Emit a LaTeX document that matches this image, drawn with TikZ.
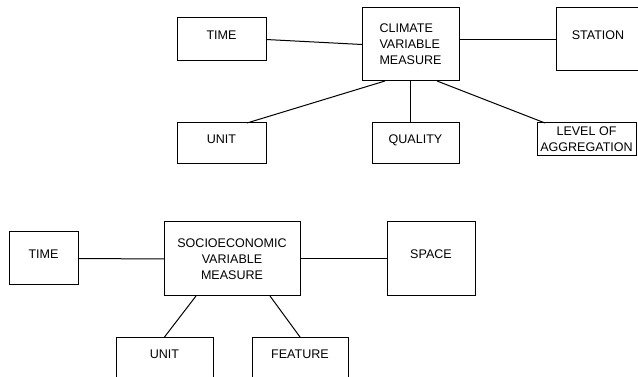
\documentclass[tikz,border=0pt]{standalone}
\usepackage{fontspec}
\setmainfont{Liberation Sans}
\usetikzlibrary{calc}
\tikzset{
  box/.style={draw=black, line width=0.75pt, inner sep=0pt, outer sep=0pt,
    font=\fontsize{9.4pt}{12pt}\selectfont, text=black},
  single/.style={box, text height=6.7pt, text depth=6.85pt},
  multi/.style={box, align=center},
  conn/.style={draw=black, line width=0.75pt}
}
\begin{document}
\begin{tikzpicture}[x=0.75pt, y=-0.75pt]
\useasboundingbox (0,0) rectangle (638,377);
\clip (0,0) rectangle (638,377);
% top group
\node[single, minimum width=66.75pt, minimum height=32.25pt] (time1) at (221.5,39.5) {TIME};
\node[box, align=left, minimum width=72.75pt, minimum height=54.75pt] (climate) at (410.5,44.5) {CLIMATE\\VARIABLE\\MEASURE};
\node[single, minimum width=63pt, minimum height=47.25pt] (station) at (598,39.5) {STATION};
\node[single, minimum width=66.75pt, minimum height=30.75pt] (unit1) at (221.5,143.5) {UNIT};
\node[single, minimum width=65.25pt, minimum height=30.75pt] (quality) at (415.5,143.5) {QUALITY};
\node[multi, minimum width=74.25pt, minimum height=24.75pt] (level) at (586.5,139.5) {LEVEL OF\\AGGREGATION};
% bottom group
\node[single, minimum width=51.75pt, minimum height=39.75pt] (time2) at (43.5,258.5) {TIME};
\node[multi, minimum width=102pt, minimum height=55.5pt] (socio) at (232,259) {SOCIOECONOMIC\\VARIABLE\\MEASURE};
\node[single, minimum width=66pt, minimum height=55.5pt] (space) at (431,259) {SPACE};
\node[single, minimum width=72.75pt, minimum height=32.25pt] (unit2) at (164.5,358.5) {UNIT};
\node[single, minimum width=72pt, minimum height=32.25pt] (feature) at (300,358.5) {FEATURE};
% connectors top
\draw[conn] (time1.east) -- (climate.west);
\draw[conn] (station.west -| climate.east) -- (station.west);
\draw[conn] ($(climate.south west)+(23,0)$) -- ($(unit1.north)+(25.5,0)$);
\draw[conn] (climate.south) -- (climate.south |- quality.north);
\draw[conn] ($(climate.south east)+(-22,0)$) -- ($(level.north west)+(8,0)$);
% connectors bottom
\draw[conn] (time2.east) -- (socio.west);
\draw[conn] (socio.east) -- (space.west);
\draw[conn] ($(socio.south west)+(32,0)$) -- (unit2.north);
\draw[conn] ($(socio.south east)+(-30,0)$) -- (feature.north);
\end{tikzpicture}
\end{document}
